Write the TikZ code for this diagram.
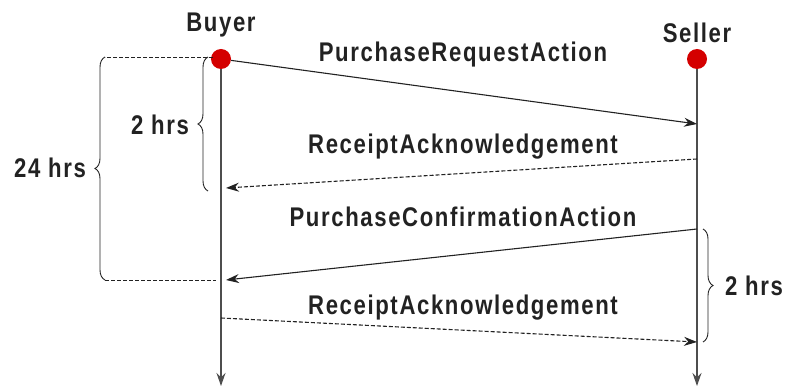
\documentclass[tikz,border=0pt]{standalone}
\usepackage{fontspec}
\setmainfont{Liberation Sans}[FakeStretch=0.82,LetterSpace=6]
\usetikzlibrary{arrows.meta,decorations.pathreplacing}

\definecolor{dotred}{HTML}{D40000}
\definecolor{ink}{HTML}{222222}

\begin{document}
\begin{tikzpicture}[x=1pt,y=-1pt,
    lbl/.style={font=\bfseries\fontsize{27}{29}\selectfont,text=ink,inner sep=0pt},
    dot/.style={circle,fill=dotred,minimum size=20pt,inner sep=0pt},
    tip/.style={-{Stealth[length=13pt,width=9pt]}},
    msg/.style={tip,draw=ink,line width=1.1pt},
    reply/.style={msg,dash pattern=on 4pt off 2pt},
    lifeline/.style={tip,draw=ink!80,line width=1.1pt},
    timebrace/.style={draw=ink,line width=0.9pt,decorate,decoration={brace,amplitude=10pt}},
    guide/.style={draw=ink,line width=0.9pt,dash pattern=on 4pt off 2pt}]
  \useasboundingbox (0,0) rectangle (787,387);

  % Parties
  \node[lbl] (buyer) at (221,25) {Buyer};
  \node[lbl] (seller) at (697,33) {Seller};

  % Lifelines
  \coordinate (bend) at (221,386);
  \coordinate (send) at (697,386);
  \draw[lifeline] (221,60) -- (bend);
  \draw[lifeline] (697,60) -- (send);
  \node[dot] (bdot) at (221,59) {};
  \node[dot] (sdot) at (697,59) {};

  % Message ends
  \coordinate (s1) at (697,124);
  \coordinate (s2) at (697,159);
  \coordinate (b2) at (226,188);
  \coordinate (s3) at (697,229);
  \coordinate (b3) at (226,280);
  \coordinate (b4) at (221,318);
  \coordinate (s4) at (697,342);

  % Messages
  \draw[msg] (bdot) -- (s1);
  \draw[reply] (s2) -- (b2);
  \draw[msg] (s3) -- (b3);
  \draw[reply] (b4) -- (s4);

  \node[lbl] (req) at (463,55) {PurchaseRequestAction};
  \node[lbl] (ack1) at (463,147) {ReceiptAcknowledgement};
  \node[lbl] (conf) at (463,217) {PurchaseConfirmationAction};
  \node[lbl] (ack2) at (463,308) {ReceiptAcknowledgement};

  % Time limits
  \coordinate (d24a) at (213,57);
  \coordinate (d24b) at (105,57);
  \coordinate (d24c) at (105,280);
  \coordinate (d24d) at (216,280);
  \draw[guide] (d24a) -- (d24b);
  \draw[guide] (d24c) -- (d24d);
  \draw[timebrace] (d24c) -- (d24b);
  \node[lbl] (t24) at (50,168) {24 hrs};

  \coordinate (bb1) at (208,57);
  \coordinate (bb2) at (208,191);
  \draw[timebrace] (bb2) -- (bb1);
  \node[lbl] (tb2) at (160,125) {2 hrs};

  \coordinate (sb1) at (703,229);
  \coordinate (sb2) at (703,342);
  \draw[timebrace] (sb1) -- (sb2);
  \node[lbl] (ts2) at (754,286) {2 hrs};
\end{tikzpicture}
\end{document}
